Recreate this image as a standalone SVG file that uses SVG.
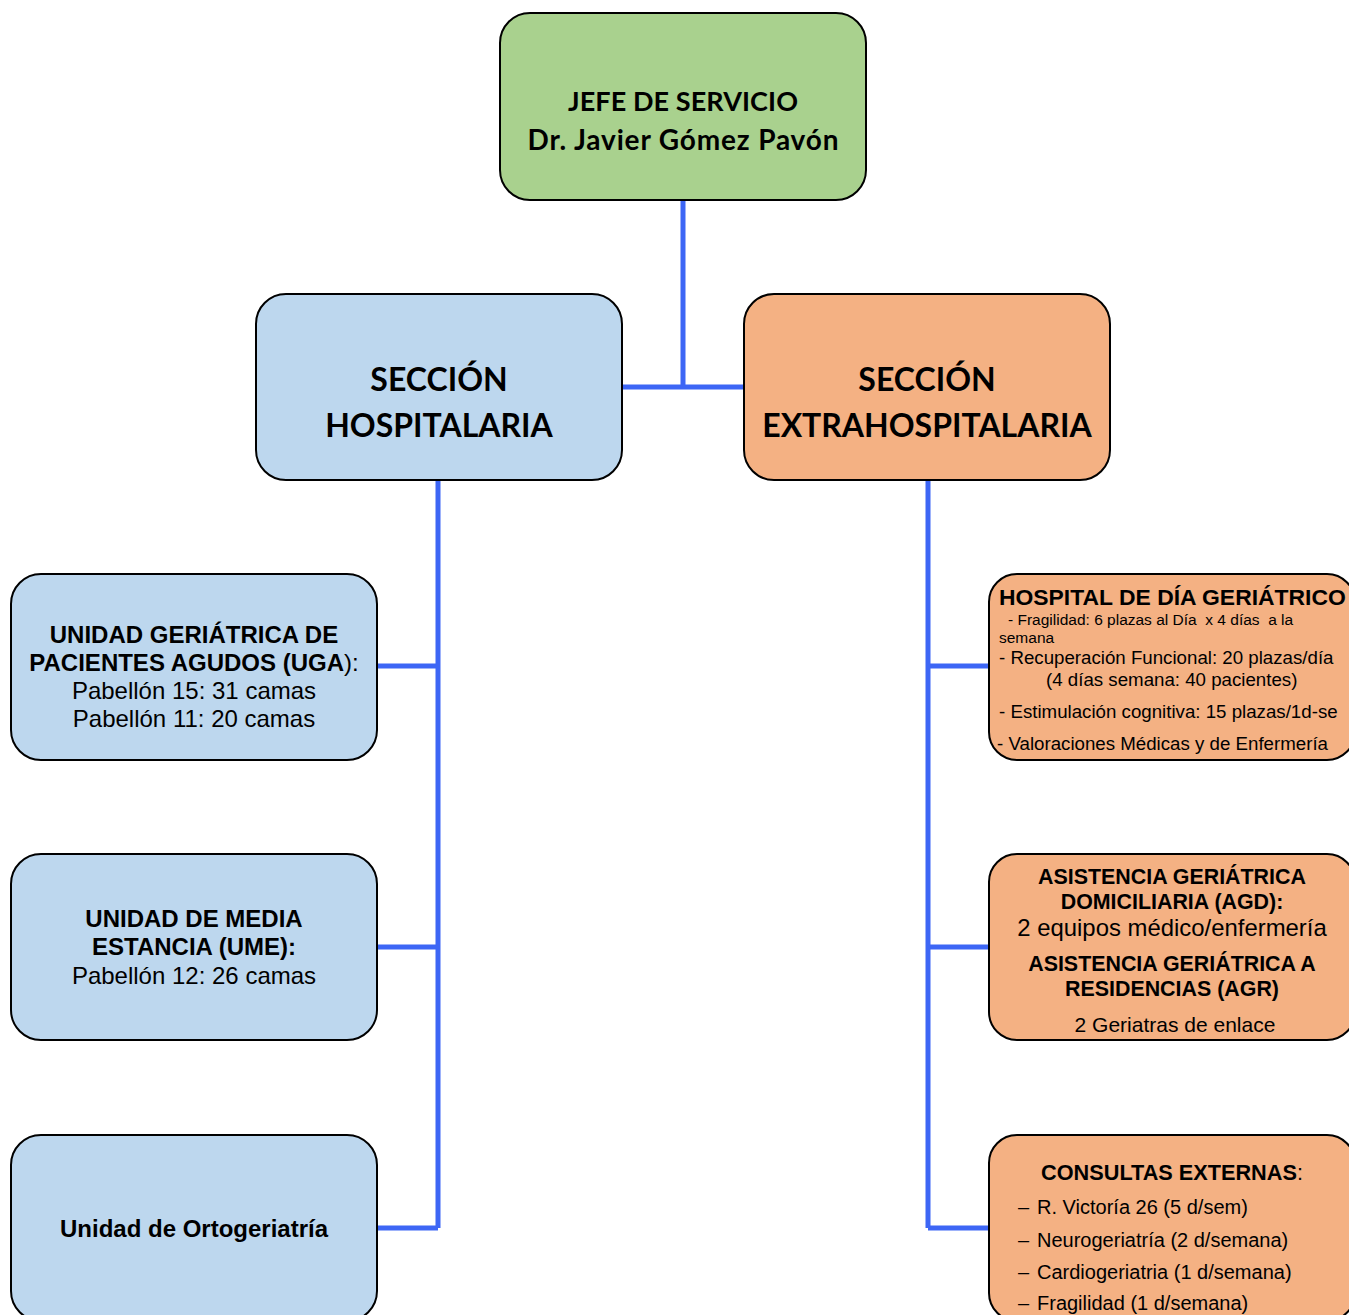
<svg xmlns="http://www.w3.org/2000/svg" width="1349" height="1315" viewBox="0 0 1349 1315">
<style>
.box{stroke:#000;stroke-width:2}
.g{fill:#a9d18e}.b{fill:#bdd7ee}.o{fill:#f4b183}
.conn{stroke:#3d66f5;stroke-width:5;fill:none}
.cal{font-family:Lato,"Open Sans",sans-serif;font-weight:bold;fill:#000;text-anchor:middle}
.ar{font-family:"Liberation Sans",Arial,sans-serif;fill:#000;white-space:pre}
.bd{font-weight:bold}
.mid{text-anchor:middle}
</style>
<defs>
<clipPath id="c1"><rect x="989" y="574" width="366" height="186" rx="28"/></clipPath>
<clipPath id="c3"><rect x="989" y="1135" width="366" height="186" rx="28"/></clipPath>
</defs>
<rect width="1349" height="1315" fill="#fff"/>
<g id="connectors">
<path class="conn" d="M683 200V387M622 387H744"/>
<path class="conn" d="M438 480V1228M378 666H438M378 947H438M378 1228H438"/>
<path class="conn" d="M928 480V1228M928 666H989M928 947H989M928 1228H989"/>
</g>
<g id="jefe">
<rect class="box g" x="500" y="13" width="366" height="187" rx="30"/>
<text class="cal" x="683" y="111" font-size="27" textLength="230">JEFE DE SERVICIO</text>
<text class="cal" x="683" y="150" font-size="28" textLength="311">Dr. Javier Gómez Pavón</text>
</g>
<g id="hosp">
<rect class="box b" x="256" y="294" width="366" height="186" rx="30"/>
<text class="cal" x="439" y="391" font-size="32">SECCIÓN</text>
<text class="cal" x="439" y="437" font-size="32">HOSPITALARIA</text>
</g>
<g id="extra">
<rect class="box o" x="744" y="294" width="366" height="186" rx="30"/>
<text class="cal" x="927" y="391" font-size="32">SECCIÓN</text>
<text class="cal" x="927" y="437" font-size="32">EXTRAHOSPITALARIA</text>
</g>
<g id="uga">
<rect class="box b" x="11" y="574" width="366" height="186" rx="30"/>
<text class="ar mid bd" x="194" y="643" font-size="24">UNIDAD GERIÁTRICA DE</text>
<text class="ar mid" x="194" y="671" font-size="24"><tspan class="bd">PACIENTES AGUDOS (UGA</tspan>):</text>
<text class="ar mid" x="194" y="699" font-size="24">Pabellón 15: 31 camas</text>
<text class="ar mid" x="194" y="727" font-size="24">Pabellón 11: 20 camas</text>
</g>
<g id="ume">
<rect class="box b" x="11" y="854" width="366" height="186" rx="30"/>
<text class="ar mid bd" x="194" y="927" font-size="24">UNIDAD DE MEDIA</text>
<text class="ar mid bd" x="194" y="955" font-size="24">ESTANCIA (UME):</text>
<text class="ar mid" x="194" y="984" font-size="24">Pabellón 12: 26 camas</text>
</g>
<g id="orto">
<rect class="box b" x="11" y="1135" width="366" height="186" rx="30"/>
<text class="ar mid bd" x="194" y="1237" font-size="24">Unidad de Ortogeriatría</text>
</g>
<g id="hdg">
<rect class="box o" x="989" y="574" width="366" height="186" rx="28"/>
<g clip-path="url(#c1)">
<text class="ar bd" x="999" y="605" font-size="22.9">HOSPITAL DE DÍA GERIÁTRICO</text>
<text class="ar" x="1008" y="625" font-size="15.5">- Fragilidad: 6 plazas al Día  x 4 días  a la</text>
<text class="ar" x="999" y="643" font-size="15.5">semana</text>
<text class="ar" x="999" y="664" font-size="18.7">- Recuperación Funcional: 20 plazas/día</text>
<text class="ar" x="1046" y="686" font-size="18.7">(4 días semana: 40 pacientes)</text>
<text class="ar" x="999" y="718" font-size="18.7">- Estimulación cognitiva: 15 plazas/1d-se</text>
<text class="ar" x="997" y="750" font-size="18.7">- Valoraciones Médicas y de Enfermería</text>
</g>
</g>
<g id="agd">
<rect class="box o" x="989" y="854" width="366" height="186" rx="28"/>
<text class="ar mid bd" x="1172" y="884" font-size="21.4">ASISTENCIA GERIÁTRICA</text>
<text class="ar mid bd" x="1172" y="909" font-size="21.4">DOMICILIARIA (AGD):</text>
<text class="ar mid" x="1172" y="936" font-size="23.9">2 equipos médico/enfermería</text>
<text class="ar mid bd" x="1172" y="971" font-size="21.4">ASISTENCIA GERIÁTRICA A</text>
<text class="ar mid bd" x="1172" y="996" font-size="21.4">RESIDENCIAS (AGR)</text>
<text class="ar mid" x="1175" y="1032" font-size="21">2 Geriatras de enlace</text>
</g>
<g id="consultas">
<rect class="box o" x="989" y="1135" width="366" height="186" rx="28"/>
<g clip-path="url(#c3)">
<text class="ar mid" x="1172" y="1180" font-size="21.7"><tspan class="bd">CONSULTAS EXTERNAS</tspan>:</text>
<text class="ar" x="1018" y="1214" font-size="20">–</text><text class="ar" x="1037" y="1214" font-size="20">R. Victoría 26 (5 d/sem)</text>
<text class="ar" x="1018" y="1247" font-size="20">–</text><text class="ar" x="1037" y="1247" font-size="20">Neurogeriatría (2 d/semana)</text>
<text class="ar" x="1018" y="1279" font-size="20">–</text><text class="ar" x="1037" y="1279" font-size="20">Cardiogeriatria (1 d/semana)</text>
<text class="ar" x="1018" y="1310" font-size="20">–</text><text class="ar" x="1037" y="1310" font-size="20">Fragilidad (1 d/semana)</text>
</g>
</g>
</svg>
